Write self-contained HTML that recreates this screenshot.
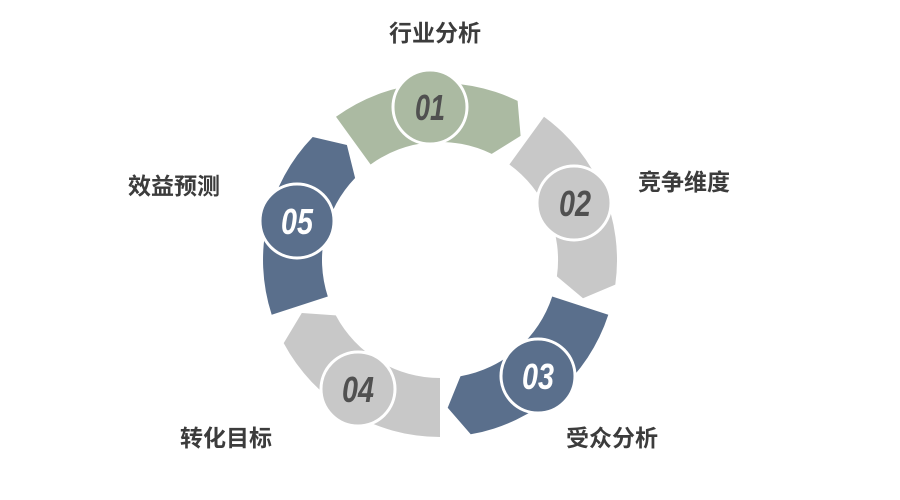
<!DOCTYPE html>
<html><head><meta charset="utf-8"><style>
html,body{margin:0;padding:0;background:#fff;width:900px;height:500px;overflow:hidden}
svg{display:block}
.lb{font-family:"Liberation Sans","Noto Sans CJK SC",sans-serif;font-weight:bold;font-size:23px;fill:#3c3c3c}
.n{font-family:"Liberation Sans",sans-serif;font-weight:bold;font-style:italic;font-size:36px}
</style></head><body>
<svg width="900" height="500" viewBox="0 0 900 500">
<path d="M336,116.8 A177,177 0 0 1 517.6,100.9 L520.6,135.9 L491.7,153.9 A118,118 0 0 0 370.6,164.5 Z" fill="#abbaa2"/>
<path d="M544,116.8 A177,177 0 0 1 615.3,284.6 L583,298.3 L556.9,276.4 A118,118 0 0 0 509.4,164.5 Z" fill="#c8c8c8"/>
<path d="M608.3,314.7 A177,177 0 0 1 470.7,434.3 L447.7,407.8 L460.5,376.2 A118,118 0 0 0 552.2,296.5 Z" fill="#5a6f8c"/>
<path d="M440,437 A177,177 0 0 1 283.7,343.1 L301.8,313 L335.8,315.4 A118,118 0 0 0 440,378 Z" fill="#c8c8c8"/>
<path d="M271.7,314.7 A177,177 0 0 1 312.7,137 L346.9,145 L355.1,178 A118,118 0 0 0 327.8,296.5 Z" fill="#5a6f8c"/>
<g stroke="#fff" stroke-width="3">
<circle cx="430" cy="107" r="37" fill="#abbaa2"/>
<circle cx="574" cy="203" r="37" fill="#c8c8c8"/>
<circle cx="538" cy="376" r="37" fill="#5a6f8c"/>
<circle cx="358" cy="389" r="37" fill="#c8c8c8"/>
<circle cx="297" cy="221" r="37" fill="#5a6f8c"/>
</g>
<g class="n">
<text x="415" y="120" textLength="30" lengthAdjust="spacingAndGlyphs" fill="#505050">01</text>
<text x="559" y="216" textLength="32" lengthAdjust="spacingAndGlyphs" fill="#505050">02</text>
<text x="522" y="389" textLength="32" lengthAdjust="spacingAndGlyphs" fill="#fff">03</text>
<text x="342" y="402" textLength="32" lengthAdjust="spacingAndGlyphs" fill="#505050">04</text>
<text x="281" y="234" textLength="32" lengthAdjust="spacingAndGlyphs" fill="#fff">05</text>
</g>
<g class="lb" text-anchor="middle">
<text x="435" y="41">行业分析</text>
<text x="684" y="190">竞争维度</text>
<text x="612" y="446">受众分析</text>
<text x="226" y="446">转化目标</text>
<text x="174" y="194">效益预测</text>
</g>
</svg>
</body></html>
